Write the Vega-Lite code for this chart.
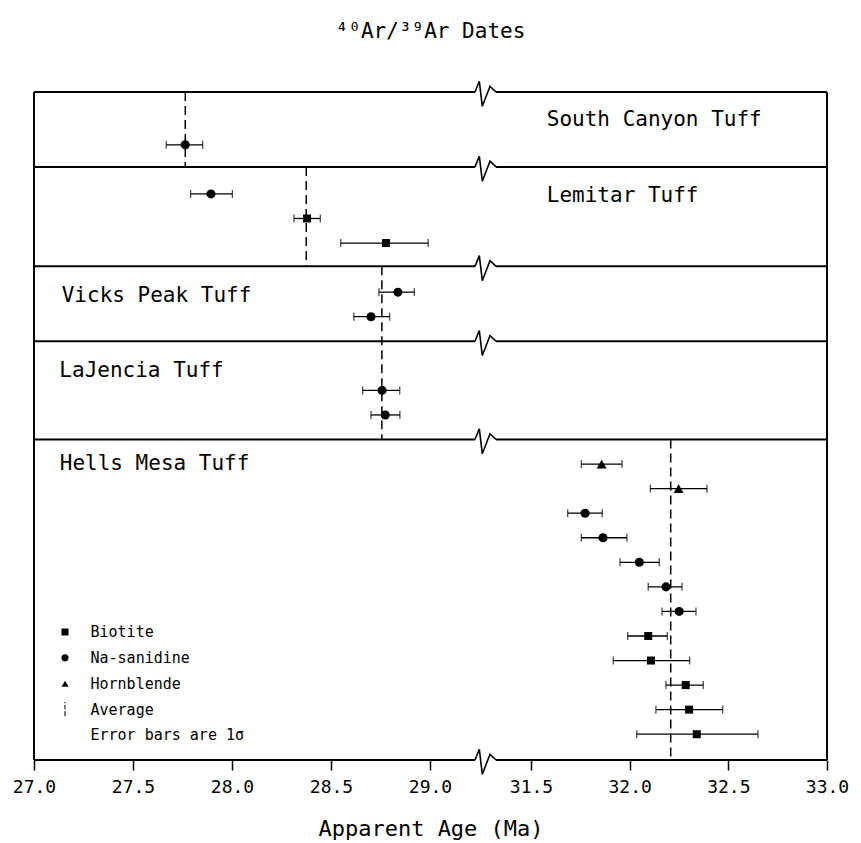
{
  "$schema": "https://vega.github.io/schema/vega-lite/v6.json",
  "width": 793,
  "height": 668,
  "autosize": {"type": "none"},
  "padding": {"left": 34, "top": 92, "right": 34, "bottom": 83},
  "background": "white",
  "title": {"text": "⁴⁰Ar/³⁹Ar Dates", "font": "DejaVu Sans Mono", "fontSize": 21, "fontWeight": "normal", "color": "black", "anchor": "middle", "frame": "group", "baseline": "alphabetic", "offset": 19},
  "config": {"view": {"stroke": null}},
  "datasets": {
    "dates": [
      {"tuff": "South Canyon Tuff", "mineral": "Na-sanidine", "row": 2, "age": 27.764, "lo": 27.668, "hi": 27.852},
      {"tuff": "Lemitar Tuff", "mineral": "Na-sanidine", "row": 4, "age": 27.894, "lo": 27.791, "hi": 28.002},
      {"tuff": "Lemitar Tuff", "mineral": "Biotite", "row": 5, "age": 28.379, "lo": 28.313, "hi": 28.446},
      {"tuff": "Lemitar Tuff", "mineral": "Biotite", "row": 6, "age": 28.778, "lo": 28.549, "hi": 28.991},
      {"tuff": "Vicks Peak Tuff", "mineral": "Na-sanidine", "row": 8, "age": 28.838, "lo": 28.742, "hi": 28.921},
      {"tuff": "Vicks Peak Tuff", "mineral": "Na-sanidine", "row": 9, "age": 28.702, "lo": 28.615, "hi": 28.796},
      {"tuff": "LaJencia Tuff", "mineral": "Na-sanidine", "row": 12, "age": 28.758, "lo": 28.66, "hi": 28.847},
      {"tuff": "LaJencia Tuff", "mineral": "Na-sanidine", "row": 13, "age": 28.774, "lo": 28.702, "hi": 28.848},
      {"tuff": "Hells Mesa Tuff", "mineral": "Hornblende", "row": 15, "age": 31.858, "lo": 31.755, "hi": 31.961},
      {"tuff": "Hells Mesa Tuff", "mineral": "Hornblende", "row": 16, "age": 32.248, "lo": 32.105, "hi": 32.392},
      {"tuff": "Hells Mesa Tuff", "mineral": "Na-sanidine", "row": 17, "age": 31.774, "lo": 31.686, "hi": 31.861},
      {"tuff": "Hells Mesa Tuff", "mineral": "Na-sanidine", "row": 18, "age": 31.865, "lo": 31.755, "hi": 31.986},
      {"tuff": "Hells Mesa Tuff", "mineral": "Na-sanidine", "row": 19, "age": 32.049, "lo": 31.951, "hi": 32.15},
      {"tuff": "Hells Mesa Tuff", "mineral": "Na-sanidine", "row": 20, "age": 32.184, "lo": 32.094, "hi": 32.265},
      {"tuff": "Hells Mesa Tuff", "mineral": "Na-sanidine", "row": 21, "age": 32.251, "lo": 32.164, "hi": 32.336},
      {"tuff": "Hells Mesa Tuff", "mineral": "Biotite", "row": 22, "age": 32.094, "lo": 31.99, "hi": 32.191},
      {"tuff": "Hells Mesa Tuff", "mineral": "Biotite", "row": 23, "age": 32.108, "lo": 31.917, "hi": 32.304},
      {"tuff": "Hells Mesa Tuff", "mineral": "Biotite", "row": 24, "age": 32.284, "lo": 32.184, "hi": 32.373},
      {"tuff": "Hells Mesa Tuff", "mineral": "Biotite", "row": 25, "age": 32.301, "lo": 32.133, "hi": 32.471},
      {"tuff": "Hells Mesa Tuff", "mineral": "Biotite", "row": 26, "age": 32.34, "lo": 32.036, "hi": 32.65}
    ],
    "averages": [
      {"tuff": "South Canyon Tuff", "age": 27.764, "top": -0.15, "bottom": 2.9},
      {"tuff": "Lemitar Tuff", "age": 28.375, "top": 2.9, "bottom": 6.95},
      {"tuff": "Vicks Peak and LaJencia Tuff", "age": 28.757, "top": 6.95, "bottom": 14.0},
      {"tuff": "Hells Mesa Tuff", "age": 32.208, "top": 14.0, "bottom": 27.05}
    ],
    "panels": [
      {"tuff": "South Canyon Tuff", "labelAge": 31.58, "labelRow": 1.23},
      {"tuff": "Lemitar Tuff", "labelAge": 31.58, "labelRow": 4.32},
      {"tuff": "Vicks Peak Tuff", "labelAge": 27.14, "labelRow": 8.39},
      {"tuff": "LaJencia Tuff", "labelAge": 27.128, "labelRow": 11.44},
      {"tuff": "Hells Mesa Tuff", "labelAge": 27.13, "labelRow": 15.24}
    ],
    "boundaries": [
      {"row": -0.15}, {"row": 2.9}, {"row": 6.95}, {"row": 10.0}, {"row": 14.0}, {"row": 27.05}
    ],
    "frame": [{"age": 27}, {"age": 33}]
  },
  "layer": [
    {
      "data": {"name": "frame"},
      "mark": {"type": "rule", "strokeWidth": 2, "color": "black"},
      "encoding": {
        "x": {
          "field": "age", "type": "quantitative",
          "scale": {"domain": [27, 29, 31.5, 33], "range": [0, 396, 497, 793], "nice": false, "zero": false},
          "axis": {
            "values": [27, 27.5, 28, 28.5, 29, 31.5, 32, 32.5, 33],
            "format": ".1f", "domain": false, "grid": false, "ticks": true,
            "tickSize": 10, "tickWidth": 1.5, "tickColor": "black",
            "labelFont": "DejaVu Sans Mono", "labelFontSize": 18, "labelColor": "black",
            "labelPadding": 22, "labelBaseline": "alphabetic", "labelFlush": false, "labelOverlap": false,
            "title": "Apparent Age (Ma)", "titleFont": "DejaVu Sans Mono", "titleFontSize": 22,
            "titleFontWeight": "normal", "titleColor": "black", "titleY": 75, "titleBaseline": "alphabetic"
          },
          "title": "Apparent Age (Ma)"
        },
        "y": {"datum": -0.15, "type": "quantitative", "scale": {"domain": [-0.15, 27.05], "reverse": true, "nice": false, "zero": false}, "axis": null},
        "y2": {"datum": 27.05}
      }
    },
    {
      "data": {"name": "boundaries"},
      "mark": {"type": "rule", "strokeWidth": 2, "color": "black"},
      "encoding": {
        "x": {"datum": 27, "type": "quantitative", "title": "Apparent Age (Ma)"},
        "x2": {"datum": 30.114},
        "y": {"field": "row", "type": "quantitative", "axis": null}
      }
    },
    {
      "data": {"name": "boundaries"},
      "mark": {"type": "rule", "strokeWidth": 2, "color": "black"},
      "encoding": {
        "x": {"datum": 30.634, "type": "quantitative", "title": "Apparent Age (Ma)"},
        "x2": {"datum": 33},
        "y": {"field": "row", "type": "quantitative", "axis": null}
      }
    },
    {
      "data": {"name": "boundaries"},
      "mark": {"type": "point", "shape": "M-1.05,0L-0.62,-1.07L-0.32,1.43L0.45,-0.57L1.05,0", "size": 400, "filled": false, "color": "black", "strokeWidth": 1.6, "opacity": 1},
      "encoding": {
        "x": {"datum": 30.374, "type": "quantitative", "title": "Apparent Age (Ma)"},
        "y": {"field": "row", "type": "quantitative", "axis": null}
      }
    },
    {
      "data": {"name": "averages"},
      "mark": {"type": "rule", "strokeDash": [9, 5], "strokeWidth": 1.5, "color": "black"},
      "encoding": {
        "x": {"field": "age", "type": "quantitative", "title": "Apparent Age (Ma)"},
        "y": {"field": "top", "type": "quantitative", "axis": null},
        "y2": {"field": "bottom"}
      }
    },
    {
      "data": {"name": "dates"},
      "mark": {"type": "errorbar", "ticks": {"size": 8, "thickness": 1.3, "color": "black"}, "thickness": 1.3, "color": "black"},
      "encoding": {
        "x": {"field": "lo", "type": "quantitative", "title": "Apparent Age (Ma)"},
        "x2": {"field": "hi"},
        "y": {"field": "row", "type": "quantitative", "axis": null}
      }
    },
    {
      "data": {"name": "dates"},
      "mark": {"type": "point", "filled": true, "color": "black", "opacity": 1},
      "encoding": {
        "x": {"field": "age", "type": "quantitative", "title": "Apparent Age (Ma)"},
        "y": {"field": "row", "type": "quantitative", "axis": null},
        "shape": {
          "field": "mineral", "type": "nominal",
          "scale": {
            "domain": ["Biotite", "Na-sanidine", "Hornblende", "Average", "Error bars are 1σ"],
            "range": ["square", "circle", "triangle-up", "M-0.15,-2.5L0.15,-2.5L0.15,-1.8L-0.15,-1.8Z M-0.15,-1.3L0.15,-1.3L0.15,-0.1L-0.15,-0.1Z M-0.15,0.5L0.15,0.5L0.15,1.9L-0.15,1.9Z", "M0,0"]
          },
          "legend": {
            "orient": "none", "legendX": 23.5, "legendY": 532.5, "title": null, "padding": 0,
            "labelFont": "DejaVu Sans Mono", "labelFontSize": 15, "labelColor": "black",
            "symbolSize": 50, "symbolFillColor": "black", "symbolStrokeColor": "black", "symbolStrokeWidth": 1,
            "rowPadding": 9.85, "clipHeight": 15, "labelOffset": 18,
            "encode": {"symbols": {"update": {"stroke": {"value": "black"}, "strokeWidth": {"value": 1}, "fill": {"value": "black"}, "opacity": {"value": 1}}}}
          }
        },
        "size": {
          "field": "mineral", "type": "nominal",
          "scale": {"domain": ["Biotite", "Na-sanidine", "Hornblende"], "range": [64, 100, 72]},
          "legend": null
        }
      }
    },
    {
      "data": {"name": "panels"},
      "mark": {"type": "text", "align": "left", "baseline": "alphabetic", "font": "DejaVu Sans Mono", "fontSize": 21, "color": "black"},
      "encoding": {
        "x": {"field": "labelAge", "type": "quantitative", "title": "Apparent Age (Ma)"},
        "y": {"field": "labelRow", "type": "quantitative", "axis": null},
        "text": {"field": "tuff"}
      }
    }
  ]
}
